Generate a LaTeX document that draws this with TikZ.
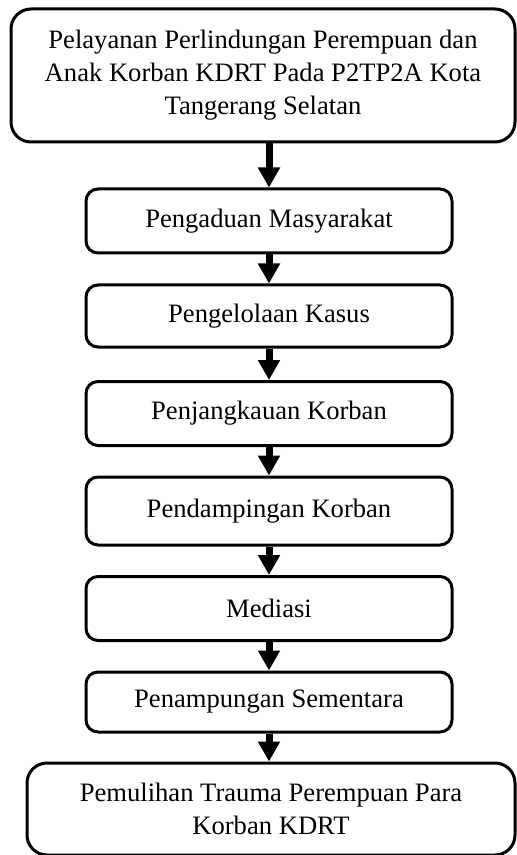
\documentclass[tikz,border=0pt]{standalone}
\usepackage{fontspec}
\setmainfont{Liberation Serif}
\usetikzlibrary{arrows.meta,positioning}

\begin{document}
\begin{tikzpicture}[x=0.5pt, y=-0.5pt,
    box/.style={draw, line width=1.5pt, rounded corners=6pt, fill=white,
                minimum width=183pt, minimum height=32pt,
                font=\fontsize{13.3}{16.5}\selectfont, align=center},
    bigbox/.style={box, rounded corners=10pt},
    arr/.style={-{Triangle[length=10pt, width=10.5pt]}, line width=3.5pt}
]
\useasboundingbox (0,0) rectangle (516,855);

% Alur pelayanan
\node[bigbox, minimum width=252pt, minimum height=66.5pt] (layanan) at (263, 75.5)
    {Pelayanan Perlindungan Perempuan dan\\ Anak Korban KDRT Pada P2TP2A Kota\\ Tangerang Selatan};
\node[box] (aduan) at (269, 221) {Pengaduan Masyarakat};
\node[box, minimum height=31pt] (kasus) at (269, 316) {Pengelolaan Kasus};
\node[box] (jangkau) at (269, 413.5) {Penjangkauan Korban};
\node[box, minimum height=34pt] (damping) at (269, 511) {Pendampingan Korban};
\node[box] (mediasi) at (269, 608.5) {Mediasi};
\node[box, minimum height=30pt] (tampung) at (269, 702) {Penampungan Sementara};
\node[bigbox, minimum width=244pt, minimum height=46pt] (pulih) at (271, 809)
    {Pemulihan Trauma Perempuan Para\\ Korban KDRT};

\draw[arr] (layanan.south -| aduan) -- (aduan);
\draw[arr] (aduan) -- (kasus);
\draw[arr] (kasus) -- (jangkau);
\draw[arr] (jangkau) -- (damping);
\draw[arr] (damping) -- (mediasi);
\draw[arr] (mediasi) -- (tampung);
\draw[arr] (tampung) -- (pulih.north -| tampung);

\end{tikzpicture}
\end{document}
